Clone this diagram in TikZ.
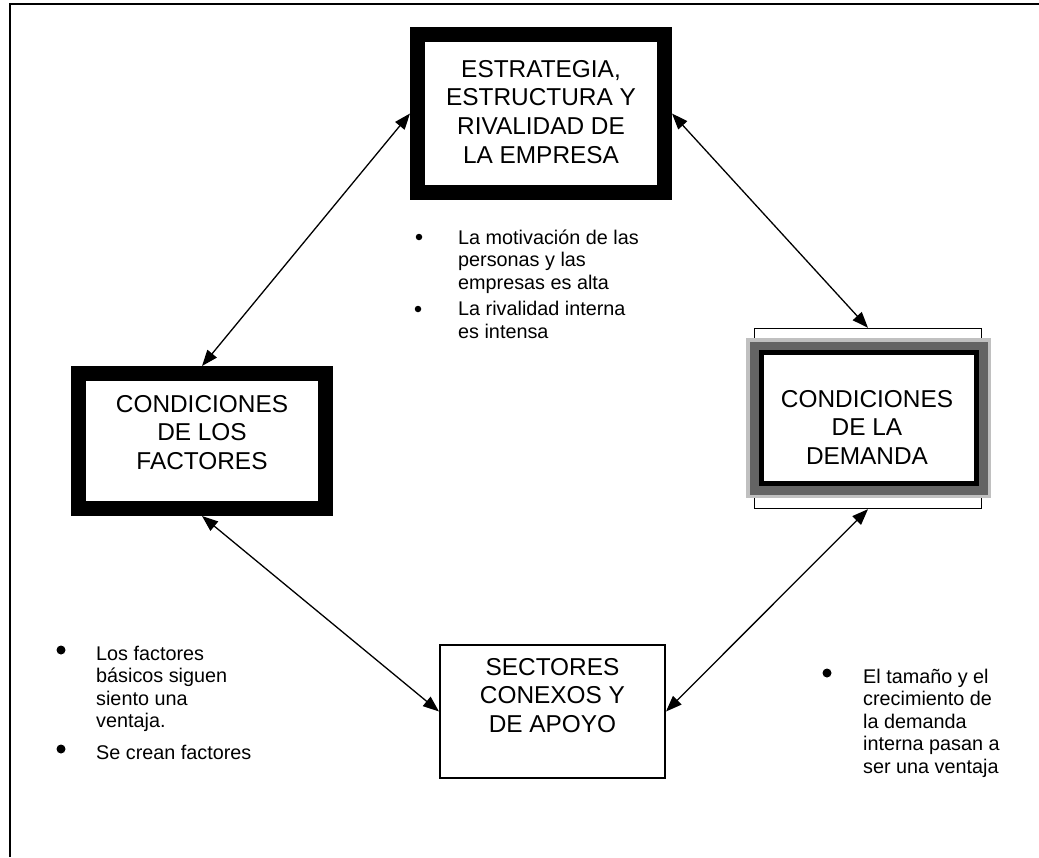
\documentclass[tikz,border=0pt]{standalone}
\usepackage{fontspec}
\setmainfont{Liberation Sans}
\usetikzlibrary{arrows.meta}
\definecolor{darkframe}{RGB}{100,100,100}
\definecolor{lightframe}{RGB}{192,192,192}
\begin{document}
\begin{tikzpicture}[x=1pt, y=-1pt,
  box/.style={rectangle, draw, fill=white, inner sep=0},
  layer/.style={rectangle, inner sep=0},
  boxtext/.style={anchor=north, inner sep=0, align=center, font=\fontsize{24.4}{28.7}\selectfont},
  bultext/.style={anchor=base west, inner sep=0, align=left, font=\fontsize{19.8}{22.5}\selectfont},
  bigdot/.style={circle, fill, inner sep=0, minimum size=9},
  smalldot/.style={circle, fill, inner sep=0, minimum size=6.5},
  link/.style={line width=1.3, {Triangle[length=16pt,width=12pt]}-{Triangle[length=16pt,width=12pt]}}]
\useasboundingbox (0,0) rectangle (1039,857);
\draw[line width=1.5] (10,857) -- (10,4) -- (1039,4);
% boxes
\node[box, line width=15, minimum width=247, minimum height=158] (est) at (541,113.5) {};
\node[boxtext] (esttxt) at (541,60) {ESTRATEGIA,\\ESTRUCTURA Y\\RIVALIDAD DE\\LA EMPRESA};
\node[box, line width=15, minimum width=247, minimum height=135] (fac) at (202,441) {};
\node[boxtext] (factxt) at (202,395) {CONDICIONES\\DE LOS\\FACTORES};
\node[box, line width=1.3, minimum width=227, minimum height=180] (dem) at (868,418.5) {};
\node[layer, fill=lightframe, minimum width=245, minimum height=160] (dem1) at (868.5,418) {};
\node[layer, fill=darkframe, minimum width=238, minimum height=153] (dem2) at (868.5,418) {};
\node[layer, fill=black, minimum width=220, minimum height=136] (dem3) at (868.5,418) {};
\node[layer, fill=white, minimum width=210, minimum height=126] (dem4) at (868.5,418) {};
\node[boxtext] (demtxt) at (867,390) {CONDICIONES\\DE LA\\DEMANDA};
\node[box, line width=2, minimum width=225, minimum height=133] (sec) at (552.5,711.5) {};
\node[boxtext] (sectxt) at (552.5,658) {SECTORES\\CONEXOS Y\\DE APOYO};
% bullets (base = last line)
\node[smalldot] (d1) at (419,237) {};
\node[bultext] (t1) at (458,289) {La motivación de las\\personas y las\\empresas es alta};
\node[smalldot] (d2) at (418,309) {};
\node[bultext] (t2) at (458,338) {La rivalidad interna\\es intensa};
\node[bigdot] (d3) at (61,650) {};
\node[bultext] (t3) at (96,727.5) {Los factores\\básicos siguen\\siento una\\ventaja.};
\node[bigdot] (d4) at (61,749) {};
\node[bultext] (t4) at (96,759) {Se crean factores};
\node[bigdot] (d5) at (827,673) {};
\node[bultext] (t5) at (863,773) {El tamaño y el\\crecimiento de\\la demanda\\interna pasan a\\ser una ventaja};
% links
\draw[link] (est.west) -- (fac.north);
\draw[link] (est.east) -- (dem.north);
\draw[link] (fac.south) -- (sec.west);
\draw[link] (dem.south) -- (sec.east);
\end{tikzpicture}
\end{document}
